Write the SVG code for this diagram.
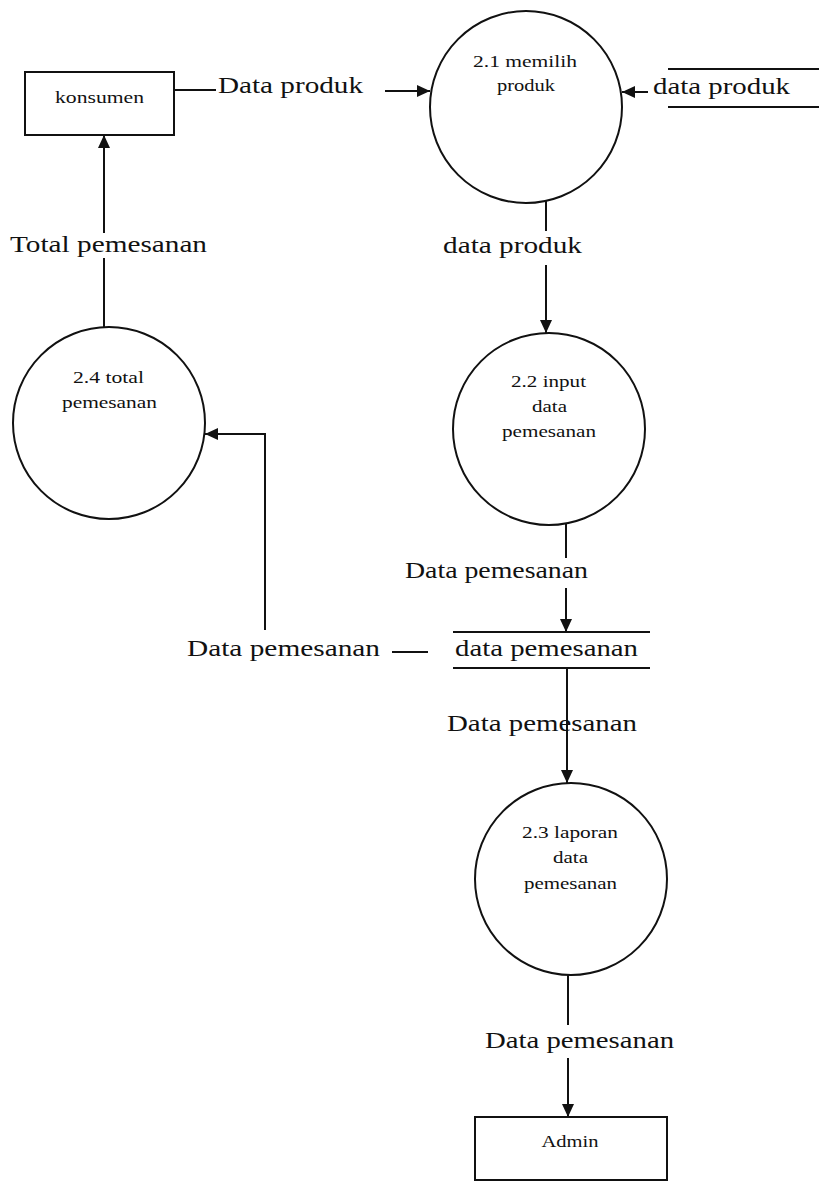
<svg xmlns="http://www.w3.org/2000/svg" width="819" height="1182" viewBox="0 0 819 1182">
<style>
.shape{fill:none;stroke:#111;stroke-width:2}
.line{fill:none;stroke:#111;stroke-width:2}
.lbl{font-family:"Liberation Serif","Times New Roman",serif;font-size:24px;fill:#111;text-anchor:middle}
.sm{font-family:"Liberation Serif","Times New Roman",serif;font-size:17px;fill:#111;text-anchor:middle}
</style>
<defs>
<marker id="arr" markerUnits="userSpaceOnUse" markerWidth="14" markerHeight="12" refX="13" refY="6" orient="auto">
<path d="M0,0 L13,6 L0,12 Z" fill="#111"/>
</marker>
</defs>
<rect width="819" height="1182" fill="#fff"/>
<g id="konsumen">
<rect class="shape" x="25" y="72" width="149" height="63"/>
<text class="sm" x="99.5" y="103" textLength="89" lengthAdjust="spacingAndGlyphs">konsumen</text>
</g>
<g id="p21">
<circle class="shape" cx="526" cy="107" r="96"/>
<text class="sm" x="525" y="67" textLength="104" lengthAdjust="spacingAndGlyphs">2.1 memilih</text>
<text class="sm" x="526" y="91" textLength="58" lengthAdjust="spacingAndGlyphs">produk</text>
</g>
<g id="store-produk">
<line class="shape" x1="668" y1="69" x2="819" y2="69"/>
<line class="shape" x1="668" y1="107" x2="819" y2="107"/>
<text class="lbl" x="721.5" y="94" textLength="137" lengthAdjust="spacingAndGlyphs">data produk</text>
</g>
<g id="p22">
<circle class="shape" cx="549" cy="429" r="96"/>
<text class="sm" x="548.5" y="387" textLength="75" lengthAdjust="spacingAndGlyphs">2.2 input</text>
<text class="sm" x="549.5" y="412" textLength="35" lengthAdjust="spacingAndGlyphs">data</text>
<text class="sm" x="549" y="437" textLength="94" lengthAdjust="spacingAndGlyphs">pemesanan</text>
</g>
<g id="p24">
<circle class="shape" cx="109" cy="423" r="96"/>
<text class="sm" x="108.5" y="383" textLength="71" lengthAdjust="spacingAndGlyphs">2.4 total</text>
<text class="sm" x="109.5" y="408" textLength="95" lengthAdjust="spacingAndGlyphs">pemesanan</text>
</g>
<g id="store-pemesanan">
<line class="shape" x1="453" y1="632" x2="650" y2="632"/>
<line class="shape" x1="453" y1="668" x2="650" y2="668"/>
<text class="lbl" x="546.5" y="656" textLength="183" lengthAdjust="spacingAndGlyphs">data pemesanan</text>
</g>
<g id="p23">
<circle class="shape" cx="571" cy="879" r="96"/>
<text class="sm" x="570" y="838" textLength="96" lengthAdjust="spacingAndGlyphs">2.3 laporan</text>
<text class="sm" x="570.5" y="863" textLength="35" lengthAdjust="spacingAndGlyphs">data</text>
<text class="sm" x="570.5" y="889" textLength="93" lengthAdjust="spacingAndGlyphs">pemesanan</text>
</g>
<g id="admin">
<rect class="shape" x="475" y="1117" width="192" height="63"/>
<text class="sm" x="570" y="1147" textLength="57" lengthAdjust="spacingAndGlyphs">Admin</text>
</g>
<g id="connectors">
<!-- konsumen -> 2.1 -->
<line class="line" x1="174" y1="90" x2="216" y2="90"/>
<line class="line" x1="385" y1="91" x2="430" y2="91" marker-end="url(#arr)"/>
<text class="lbl" x="290.5" y="93" textLength="145" lengthAdjust="spacingAndGlyphs">Data produk</text>
<!-- store produk -> 2.1 -->
<line class="line" x1="648" y1="92" x2="622" y2="92" marker-end="url(#arr)"/>
<!-- 2.1 -> 2.2 -->
<line class="line" x1="546" y1="201" x2="546" y2="231"/>
<line class="line" x1="546" y1="265" x2="546" y2="333" marker-end="url(#arr)"/>
<text class="lbl" x="512.5" y="253" textLength="139" lengthAdjust="spacingAndGlyphs">data produk</text>
<!-- 2.2 -> store pemesanan -->
<line class="line" x1="566" y1="523" x2="566" y2="558"/>
<line class="line" x1="566" y1="588" x2="566" y2="632" marker-end="url(#arr)"/>
<text class="lbl" x="496.5" y="578" textLength="183" lengthAdjust="spacingAndGlyphs">Data pemesanan</text>
<!-- store pemesanan -> 2.4 -->
<line class="line" x1="392" y1="652" x2="428" y2="652"/>
<text class="lbl" x="283.5" y="656" textLength="193" lengthAdjust="spacingAndGlyphs">Data pemesanan</text>
<polyline class="line" points="265,630 265,434 205,434" marker-end="url(#arr)"/>
<!-- 2.4 -> konsumen -->
<line class="line" x1="104" y1="327" x2="104" y2="258"/>
<line class="line" x1="104" y1="233" x2="104" y2="135" marker-end="url(#arr)"/>
<text class="lbl" x="108.5" y="252" textLength="197" lengthAdjust="spacingAndGlyphs">Total pemesanan</text>
<!-- store pemesanan -> 2.3 -->
<line class="line" x1="567" y1="668" x2="567" y2="783" marker-end="url(#arr)"/>
<text class="lbl" x="542" y="731" textLength="190" lengthAdjust="spacingAndGlyphs">Data pemesanan</text>
<!-- 2.3 -> admin -->
<line class="line" x1="568" y1="975" x2="568" y2="1025"/>
<line class="line" x1="568" y1="1058" x2="568" y2="1117" marker-end="url(#arr)"/>
<text class="lbl" x="579.5" y="1048" textLength="189" lengthAdjust="spacingAndGlyphs">Data pemesanan</text>
</g>
</svg>
